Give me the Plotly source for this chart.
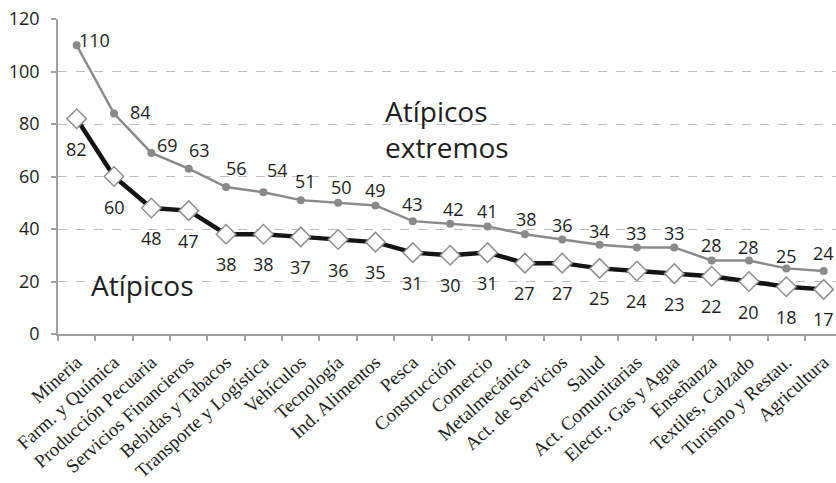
import plotly.graph_objects as go

# Sectors, ordered by number of extreme outliers
sectores = [
    "Mineria", "Farm. y Química", "Producción Pecuaria", "Servicios Financieros",
    "Bebidas y Tabacos", "Transporte y Logística", "Vehículos", "Tecnología",
    "Ind. Alimentos", "Pesca", "Construcción", "Comercio", "Metalmecánica",
    "Act. de Servicios", "Salud", "Act. Comunitarias", "Electr., Gas y Agua",
    "Enseñanza", "Textiles, Calzado", "Turismo y Restau.", "Agricultura",
]
atipicos_extremos = [110, 84, 69, 63, 56, 54, 51, 50, 49, 43, 42, 41, 38, 36, 34, 33, 33, 28, 28, 25, 24]
atipicos = [82, 60, 48, 47, 38, 38, 37, 36, 35, 31, 30, 31, 27, 27, 25, 24, 23, 22, 20, 18, 17]
y_ticks = [0, 20, 40, 60, 80, 100, 120]

# pixel offsets of the value labels for the upper series
ext_dx = [18, 26, 16, 11, 10, 14, 5, 3, 0, 0, 3, 0, 2, 0, 0, 0, 0, 0, 0, 0, 0]
ext_dy = [3, 0, 6, 17, 17, 20, 17, 14, 13, 15, 13, 13, 13, 13, 12, 12, 12, 14, 12, 10, 16]

LABEL_FONT = dict(family="Open Sans", size=18, color="#1e1e1e")

fig = go.Figure()

fig.add_trace(go.Scatter(
    x=sectores, y=atipicos_extremos, mode="lines+markers",
    line=dict(color="#8a8a8a", width=2.5),
    marker=dict(symbol="circle", size=8, color="#8a8a8a"),
    showlegend=False, hoverinfo="skip",
))
fig.add_trace(go.Scatter(
    x=sectores, y=atipicos, mode="lines+markers",
    line=dict(color="#141414", width=4.5),
    marker=dict(symbol="diamond", size=15, color="white",
                line=dict(color="#8f8f8f", width=1.5)),
    showlegend=False, hoverinfo="skip",
))

annotations = []
for i, (s, v) in enumerate(zip(sectores, atipicos_extremos)):
    annotations.append(dict(x=s, y=v, text=str(v), showarrow=False,
                            xshift=ext_dx[i], yshift=ext_dy[i] + 2,
                            font=LABEL_FONT))
for s, v in zip(sectores, atipicos):
    annotations.append(dict(x=s, y=v, text=str(v), showarrow=False,
                            yshift=-30, font=LABEL_FONT))

annotations.append(dict(x=8.2, y=78.0, xref="x", yref="y",
                        text="Atípicos<br>extremos", showarrow=False,
                        xanchor="left", yanchor="middle", align="left",
                        font=dict(family="Open Sans", size=28, color="#1e1e1e")))
annotations.append(dict(x=0.33, y=18.7, xref="x", yref="y",
                        text="Atípicos", showarrow=False,
                        xanchor="left", yanchor="middle", align="left",
                        font=dict(family="Open Sans", size=28, color="#1e1e1e")))

fig.update_layout(
    width=836, height=483,
    margin=dict(l=58, r=0, t=19, b=149),
    paper_bgcolor="white", plot_bgcolor="white",
    annotations=annotations,
    xaxis=dict(
        type="category", range=[-0.5, 20.33], automargin=False,
        tickangle=-42, tickson="boundaries", ticks="outside", ticklen=5,
        tickcolor="#a0a0a0", tickwidth=1.5, ticklabelstandoff=8,
        showline=True, linecolor="#a0a0a0", linewidth=1.5,
        showgrid=False, zeroline=False,
        tickfont=dict(family="Liberation Serif", size=19, color="#1e1e1e"),
    ),
    yaxis=dict(
        range=[0, 120], tickvals=y_ticks, automargin=False,
        ticks="outside", ticklen=5, tickcolor="#a0a0a0", tickwidth=1.5,
        ticklabelstandoff=8,
        showline=True, linecolor="#a0a0a0", linewidth=1.5,
        showgrid=True, gridcolor="#bdbdbd", gridwidth=1, griddash="dash",
        zeroline=False,
        tickfont=dict(family="Open Sans", size=18, color="#1e1e1e"),
    ),
)

fig.write_html("out.html")
